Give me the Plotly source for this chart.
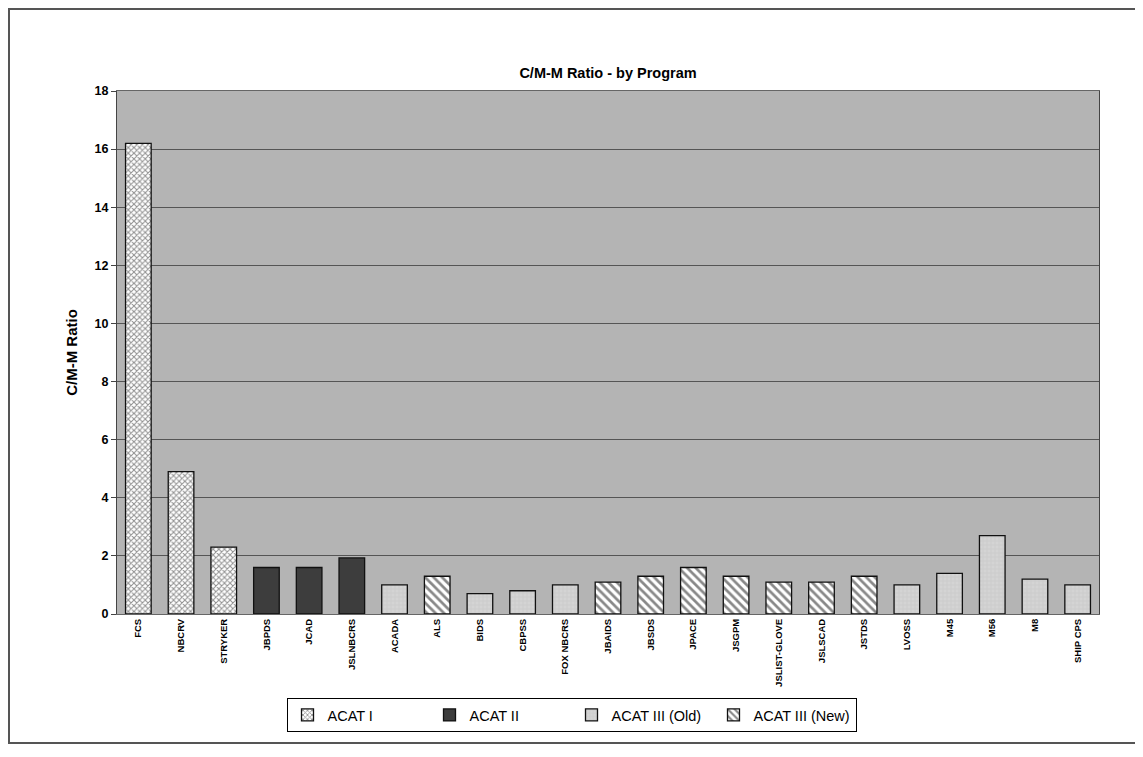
import plotly.graph_objects as go

categories = ["FCS", "NBCRV", "STRYKER", "JBPDS", "JCAD", "JSLNBCRS", "ACADA", "ALS", "BIDS",
              "CBPSS", "FOX NBCRS", "JBAIDS", "JBSDS", "JPACE", "JSGPM", "JSLIST-GLOVE",
              "JSLSCAD", "JSTDS", "LVOSS", "M45", "M56", "M8", "SHIP CPS"]
ratios = [16.2, 4.9, 2.3, 1.6, 1.6, 1.93, 1.0, 1.3, 0.7,
          0.8, 1.0, 1.1, 1.3, 1.6, 1.3, 1.1,
          1.1, 1.3, 1.0, 1.4, 2.7, 1.2, 1.0]
groups = ["ACAT I", "ACAT I", "ACAT I", "ACAT II", "ACAT II", "ACAT II", "ACAT III (Old)", "ACAT III (New)", "ACAT III (Old)",
          "ACAT III (Old)", "ACAT III (Old)", "ACAT III (New)", "ACAT III (New)", "ACAT III (New)", "ACAT III (New)", "ACAT III (New)",
          "ACAT III (New)", "ACAT III (New)", "ACAT III (Old)", "ACAT III (Old)", "ACAT III (Old)", "ACAT III (Old)", "ACAT III (Old)"]
group_names = ["ACAT I", "ACAT II", "ACAT III (Old)", "ACAT III (New)"]

styles = {
    "ACAT I": dict(color="white", pattern=dict(shape="x", fgcolor="#222222", bgcolor="white", size=4, solidity=0.45)),
    "ACAT II": dict(color="#3d3d3d", pattern=dict(shape="")),
    "ACAT III (Old)": dict(color="#cfcfcf", pattern=dict(shape="+", fgcolor="#bdbdbd", bgcolor="#d4d4d4", size=4, solidity=0.3)),
    "ACAT III (New)": dict(color="white", pattern=dict(shape="\\", fgcolor="#111111", bgcolor="white", size=6, solidity=0.45)),
}

fig = go.Figure()
for g in group_names:
    xs = [c for c, gg in zip(categories, groups) if gg == g]
    ys = [v for v, gg in zip(ratios, groups) if gg == g]
    st = styles[g]
    fig.add_trace(go.Bar(
        x=xs, y=ys, name=g, width=0.6,
        marker=dict(color=st["color"], pattern=st["pattern"],
                    line=dict(color="#111111", width=1.3)),
    ))

W, H = 1135, 749
L, R, T, B = 109, 44, 83, 143
pw, ph = W - L - R, H - T - B

fig.update_layout(
    width=W, height=H,
    barmode="relative",
    paper_bgcolor="white",
    plot_bgcolor="#b4b4b4",
    margin=dict(l=L, r=R, t=T, b=B, autoexpand=False),
    font=dict(family="Liberation Sans, Arial, sans-serif", color="black"),
    title=dict(text="<b>C/M-M Ratio - by Program</b>", xref="paper", x=0.5, xanchor="center",
               y=1 - 65 / H, yanchor="middle", font=dict(size=14.5)),
    legend=dict(orientation="h", x=(W / 2 - 4 - L) / pw, xanchor="center",
                y=(ph - (690 - T)) / ph, yanchor="top",
                bordercolor="black", borderwidth=1, bgcolor="white",
                font=dict(size=14.5), itemwidth=30, entrywidth=97, entrywidthmode="pixels",
                traceorder="normal", tracegroupgap=0),
    showlegend=True,
    shapes=[dict(type="rect", xref="paper", yref="paper",
                 x0=(1 - L) / pw, x1=(W - 1 - L) / pw,
                 y0=(ph - (735 - T)) / ph, y1=(ph + T - 1) / ph,
                 line=dict(color="#555555", width=2), layer="below")],
)
fig.update_xaxes(
    type="category", categoryorder="array", categoryarray=categories,
    tickangle=-90, tickfont=dict(size=9.5, family="Liberation Sans, Arial, sans-serif"),
    ticks="", showline=True, linecolor="#666666", linewidth=1, mirror=True,
    tickprefix="<b>", ticksuffix="</b>", automargin=False,
)
fig.update_yaxes(
    range=[0, 18], dtick=2, tickfont=dict(size=12.5),
    tickprefix="<b>", ticksuffix="</b>",
    showgrid=True, gridcolor="#555555", gridwidth=1,
    showline=True, linecolor="#444444", linewidth=1, mirror=True,
    ticks="outside", ticklen=5, tickcolor="#444444",
    zeroline=False, automargin=False,
    title=dict(text="<b>C/M-M Ratio</b>", font=dict(size=15), standoff=13),
)

fig.write_html("out.html")
